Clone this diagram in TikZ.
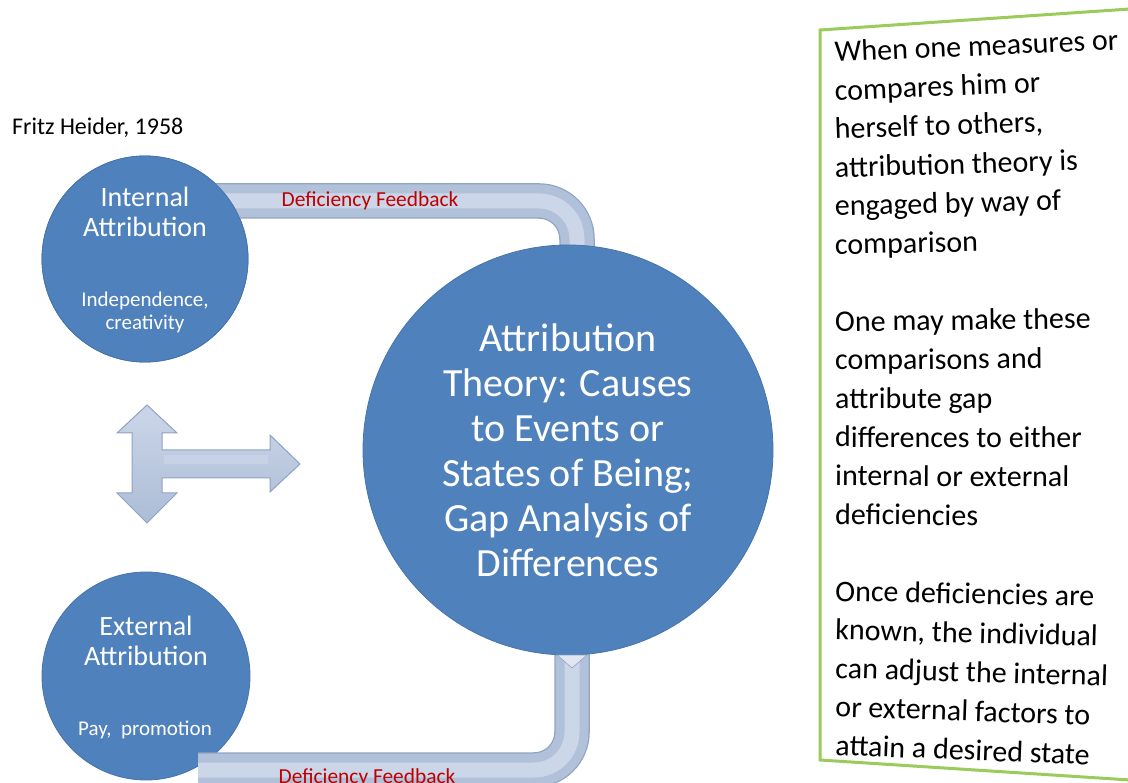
\documentclass[tikz,border=0pt]{standalone}
\usepackage{fontspec}
\setmainfont{Carlito}
\definecolor{circblue}{HTML}{4F81BD}
\definecolor{circedge}{HTML}{4674AB}
\definecolor{pipedark}{HTML}{8FA3C3}
\definecolor{pipemid}{HTML}{B1C1DA}
\definecolor{pipelight}{HTML}{CBD6E8}
\definecolor{fbred}{HTML}{C00000}
\definecolor{boxgreen}{HTML}{9BCB5B}
\begin{document}
\begin{tikzpicture}[x=1pt,y=-1pt,
  bubble/.style={circle, fill=circblue, draw=circedge, line width=0.8pt, inner sep=0pt},
  wtext/.style={text=white, inner sep=0pt, anchor=base},
  fbtext/.style={text=fbred, inner sep=0pt, anchor=base, font=\fontsize{21.4}{24}\selectfont},
  pipe/.style={line width=33pt, draw=pipemid,
     preaction={draw=pipedark, line width=35.5pt},
     postaction={draw=pipelight, line width=15pt}},
  rtext/.style={anchor=base west, inner sep=0pt, font=\fontsize{30}{36}\selectfont}]
\useasboundingbox (0,0) rectangle (1128,783);

% right text box
\draw[boxgreen, line width=3pt, fill=white] (820,30) -- (1130,9) -- (1130,780) -- (820,760) -- cycle;

% circles as nodes
\node[bubble, minimum size=206pt] (intA) at (145,259) {};
\node[bubble, minimum size=208pt] (extA) at (146,676) {};
\path (568,450) coordinate (mc);

% top feedback pipe (behind internal circle and main circle)
\draw[pipe, rounded corners=38pt] ([yshift=58pt]intA.center) -| ([xshift=9pt,yshift=-190pt]mc);
% internal circle again, on top of the pipe
\node[bubble, minimum size=206pt] at (intA.center) {};

% bottom feedback pipe (over external circle)
\draw[pipe, rounded corners=38pt] ([xshift=4pt,yshift=-195pt]mc) |- ([xshift=52pt,yshift=-94pt]extA.center);

% main circle
\node[bubble, minimum size=410pt, text=white, align=center,
      font=\fontsize{40}{45}\selectfont] (main) at (mc)
  {Attribution\\Theory: Causes\\to Events or\\States of Being;\\Gap Analysis of\\Differences};

% notch of bottom pipe
\fill[pipelight!60!white, draw=pipedark, line width=0.6pt] (557,655) -- (587,655) -- (572,668) -- cycle;

% triple arrow
\draw[top color=pipelight, bottom color=pipemid!85!pipedark, draw=pipedark, line width=1pt, line join=miter]
  (147,405) -- (177,433) -- (162,433) -- (162,450) -- (270,450) -- (270,435) -- (300,464)
  -- (270,492) -- (270,478) -- (162,478) -- (162,493) -- (177,493) -- (147,523)
  -- (117,493) -- (132,493) -- (132,433) -- (117,433) -- cycle;
\fill[pipelight, opacity=0.7] (164,455) rectangle (268,464);

% texts
\node[anchor=base west, inner sep=0pt, font=\fontsize{24}{28}\selectfont] (src) at (12,135) {Fritz Heider, 1958};

\node[wtext, font=\fontsize{28}{30}\selectfont] (i1) at (145,207) {Internal};
\node[wtext, font=\fontsize{28}{30}\selectfont] (i2) at (145,237) {Attribution};
\node[wtext, font=\fontsize{21}{23}\selectfont] (i3) at (145,307) {Independence,};
\node[wtext, font=\fontsize{21}{23}\selectfont] (i4) at (145,330) {creativity};

\node[wtext, font=\fontsize{28}{30}\selectfont] (e1) at (146,635) {External};
\node[wtext, font=\fontsize{28}{30}\selectfont] (e2) at (146,665) {Attribution};
\node[wtext, font=\fontsize{21}{23}\selectfont] (e3) at (145,735) {Pay,\ \ promotion};

\node[fbtext] (fb1) at (370,207) {Deficiency Feedback};
\node[fbtext] (fb2) at (367,783) {Deficiency Feedback};

\foreach \i/\t in {0/When one measures or, 1/compares him or, 2/{herself to others,},
    3/attribution theory is, 4/engaged by way of, 5/comparison,
    7/One may make these, 8/comparisons and, 9/attribute gap,
    10/differences to either, 11/internal or external, 12/deficiencies,
    14/Once deficiencies are, 15/{known, the individual}, 16/can adjust the internal,
    17/or external factors to, 18/attain a desired state}
  \node[rtext, rotate={2.5-4.7*\i/18}] (r\i) at (835,{62+38.5*\i}) {\t};
\end{tikzpicture}
\end{document}
